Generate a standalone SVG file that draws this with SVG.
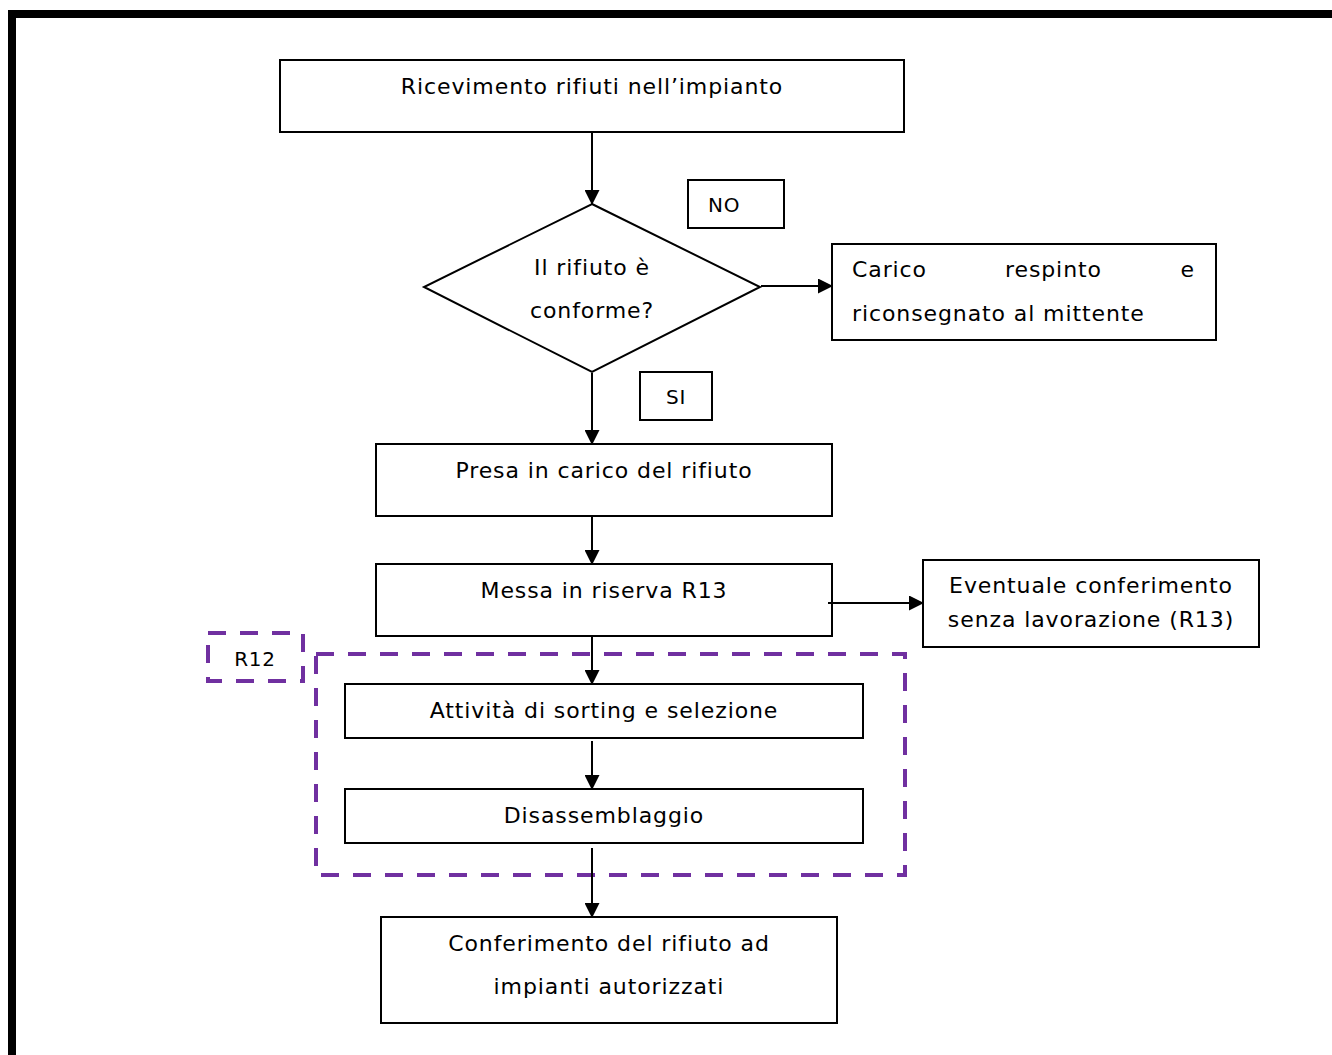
<svg xmlns="http://www.w3.org/2000/svg" width="1332" height="1055" viewBox="0 0 1332 1055">
<defs>
<marker id="ah" markerWidth="15" markerHeight="15" refX="14" refY="7.5" orient="auto" markerUnits="userSpaceOnUse" viewBox="0 0 15 15">
<path d="M0,0 L15,7.5 L0,15 z" fill="#000"/>
</marker>
<style>
.box{fill:#fff;stroke:#000;stroke-width:2}
.t{font-family:"DejaVu Sans","Verdana",sans-serif;font-size:22px;letter-spacing:0.9px;fill:#000}
.s{font-family:"DejaVu Sans","Verdana",sans-serif;font-size:20px;letter-spacing:0.8px;fill:#000}
.c{stroke:#000;stroke-width:2;fill:none;marker-end:url(#ah)}
.d{fill:none;stroke:#7030A0;stroke-width:4;stroke-dasharray:18 14}
</style>
</defs>
<rect width="1332" height="1055" fill="#fff"/>
<path d="M12,1060 L12,14 L1340,14" fill="none" stroke="#000" stroke-width="8"/>

<g id="n_r12_group">
<rect class="d" x="316" y="654" width="589" height="221"/>
</g>
<g id="n_r12">
<rect class="d" x="208" y="633" width="95" height="48"/>
<text class="s" x="255" y="666" text-anchor="middle">R12</text>
</g>

<g id="n_ricevimento">
<rect class="box" x="280" y="60" width="624" height="72"/>
<text class="t" x="592" y="94" text-anchor="middle">Ricevimento rifiuti nell’impianto</text>
</g>
<g id="n_no">
<rect class="box" x="688" y="180" width="96" height="48"/>
<text class="s" x="708" y="212">NO</text>
</g>
<g id="n_conforme">
<polygon class="box" points="592,204 760,287 592,372 424,287"/>
<text class="t" x="592" y="275" text-anchor="middle">Il rifiuto è</text>
<text class="t" x="592" y="318" text-anchor="middle">conforme?</text>
</g>
<g id="n_respinto">
<rect class="box" x="832" y="244" width="384" height="96"/>
<text class="t" x="852" y="277">Carico</text>
<text class="t" x="1005" y="277">respinto</text>
<text class="t" x="1195" y="277" text-anchor="end">e</text>
<text class="t" x="852" y="321">riconsegnato al mittente</text>
</g>
<g id="n_si">
<rect class="box" x="640" y="372" width="72" height="48"/>
<text class="s" x="676" y="404" text-anchor="middle">SI</text>
</g>
<g id="n_presa">
<rect class="box" x="376" y="444" width="456" height="72"/>
<text class="t" x="604" y="478" text-anchor="middle">Presa in carico del rifiuto</text>
</g>
<g id="n_messa">
<rect class="box" x="376" y="564" width="456" height="72"/>
<text class="t" x="604" y="598" text-anchor="middle">Messa in riserva R13</text>
</g>
<g id="n_eventuale">
<rect class="box" x="923" y="560" width="336" height="87"/>
<text class="t" x="1091" y="593" text-anchor="middle">Eventuale conferimento</text>
<text class="t" x="1091" y="627" text-anchor="middle">senza lavorazione (R13)</text>
</g>
<g id="n_attivita">
<rect class="box" x="345" y="684" width="518" height="54"/>
<text class="t" x="604" y="718" text-anchor="middle">Attività di sorting e selezione</text>
</g>
<g id="n_disassemblaggio">
<rect class="box" x="345" y="789" width="518" height="54"/>
<text class="t" x="604" y="823" text-anchor="middle">Disassemblaggio</text>
</g>
<g id="n_conferimento">
<rect class="box" x="381" y="917" width="456" height="106"/>
<text class="t" x="609" y="951" text-anchor="middle">Conferimento del rifiuto ad</text>
<text class="t" x="609" y="994" text-anchor="middle">impianti autorizzati</text>
</g>

<g id="connectors">
<line class="c" x1="592" y1="133" x2="592" y2="204"/>
<line class="c" x1="761" y1="286" x2="832" y2="286"/>
<line class="c" x1="592" y1="373" x2="592" y2="444"/>
<line class="c" x1="592" y1="517" x2="592" y2="564"/>
<line class="c" x1="828" y1="603" x2="923" y2="603"/>
<line class="c" x1="592" y1="637" x2="592" y2="684"/>
<line class="c" x1="592" y1="741" x2="592" y2="789"/>
<line class="c" x1="592" y1="848" x2="592" y2="917"/>
</g>
</svg>
